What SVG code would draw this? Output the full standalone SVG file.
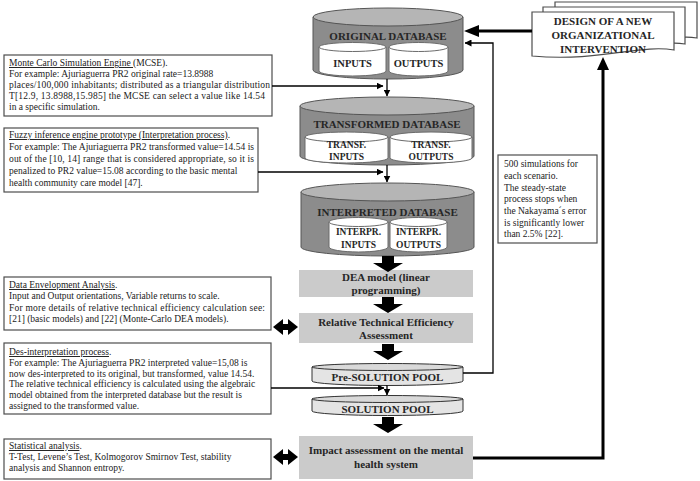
<svg xmlns="http://www.w3.org/2000/svg" width="700" height="481" viewBox="0 0 700 481">
<style>
.t{font-family:"Liberation Serif","Times New Roman",serif;font-size:9.5px;fill:#1a1a1a}
.u{text-decoration:underline}
.b{font-family:"Liberation Serif","Times New Roman",serif;font-weight:bold;fill:#262626;text-anchor:middle}
.box{fill:#fff;stroke:#4d4d4d;stroke-width:1.2}
.gbox{fill:#cbcbcb}
.body{fill:#8c8c8c;stroke:#555;stroke-width:1}
.top{fill:#b5b5b5;stroke:#555;stroke-width:1}
.ibody{fill:#fff;stroke:#6b6b6b;stroke-width:1}
.pbody{fill:#e4e4e4;stroke:#333;stroke-width:1}
.ptop{fill:#d9d9d9;stroke:#333;stroke-width:1}
.thin{fill:none;stroke:#000;stroke-width:1.3}
.thick{fill:none;stroke:#000;stroke-width:3}
.page{fill:#fff;stroke:#4d4d4d;stroke-width:1.2}
</style>
<defs>
<marker id="ah" markerWidth="7" markerHeight="7" refX="6.5" refY="3.5" orient="auto" markerUnits="userSpaceOnUse"><path d="M0,0 L7,3.5 L0,7 Z" fill="#000"/></marker>
</defs>

<g id="design">
<path class="page" d="M555,2 H697 V38 C675,34 660,44 640,42 L555,42 Z"/>
<path class="page" d="M543,7 H685 V44 C663,40 648,50 628,48 L543,48 Z"/>
<path class="page" d="M532,12 H674 V50 C640,44 600,62 532,56 Z"/>
<text class="b" font-size="11" x="603" y="25">DESIGN OF A NEW</text>
<text class="b" font-size="11" x="603" y="39">ORGANIZATIONAL</text>
<text class="b" font-size="11" x="603" y="53">INTERVENTION</text>
</g>

<g id="original-db">
<path class="body" d="M313,17 V70 A75,9 0 0 0 463,70 V17 Z"/>
<ellipse class="top" cx="388" cy="17" rx="75" ry="9"/>
<text class="b" font-size="11" x="388" y="40">ORIGINAL DATABASE</text>
<path class="ibody" d="M319,47 V71 A33.5,5 0 0 0 386,71 V47 Z"/>
<ellipse class="ibody" cx="352.5" cy="47" rx="33.5" ry="4.5"/>
<text class="b" font-size="10.5" x="352.5" y="67">INPUTS</text>
<path class="ibody" d="M389,47 V71 A29.5,5 0 0 0 448,71 V47 Z"/>
<ellipse class="ibody" cx="418.5" cy="47" rx="29.5" ry="4.5"/>
<text class="b" font-size="10.5" x="418.5" y="67">OUTPUTS</text>
</g>

<g id="transformed-db">
<path class="body" d="M300,106 V156 A87,9 0 0 0 474,156 V106 Z"/>
<ellipse class="top" cx="387" cy="106" rx="87" ry="9"/>
<text class="b" font-size="11" x="387" y="128">TRANSFORMED DATABASE</text>
<path class="ibody" d="M305,137 V158 A41.5,5 0 0 0 388,158 V137 Z"/>
<ellipse class="ibody" cx="346.5" cy="137" rx="41.5" ry="5"/>
<text class="b" font-size="9.5" x="346.5" y="148">TRANSF.</text>
<text class="b" font-size="9.5" x="346.5" y="160">INPUTS</text>
<path class="ibody" d="M390,137 V158 A41,5 0 0 0 472,158 V137 Z"/>
<ellipse class="ibody" cx="431" cy="137" rx="41" ry="5"/>
<text class="b" font-size="9.5" x="431" y="148">TRANSF.</text>
<text class="b" font-size="9.5" x="431" y="160">OUTPUTS</text>
</g>

<g id="interpreted-db">
<path class="body" d="M301,192 V247 A86.5,9 0 0 0 474,247 V192 Z"/>
<ellipse class="top" cx="387.5" cy="192" rx="86.5" ry="9"/>
<text class="b" font-size="11" x="387.5" y="216">INTERPRETED DATABASE</text>
<path class="ibody" d="M329,222 V247 A29.5,5 0 0 0 388,247 V222 Z"/>
<ellipse class="ibody" cx="358.5" cy="222" rx="29.5" ry="4.5"/>
<text class="b" font-size="9.5" x="358.5" y="235">INTERPR.</text>
<text class="b" font-size="9.5" x="358.5" y="248">INPUTS</text>
<path class="ibody" d="M390,222 V247 A28.5,5 0 0 0 447,247 V222 Z"/>
<ellipse class="ibody" cx="418.5" cy="222" rx="28.5" ry="4.5"/>
<text class="b" font-size="9.5" x="418.5" y="235">INTERPR.</text>
<text class="b" font-size="9.5" x="418.5" y="248">OUTPUTS</text>
</g>

<g id="dea-model">
<rect class="gbox" x="299" y="270" width="174" height="27"/>
<text class="b" font-size="11" x="386" y="281">DEA model (linear</text>
<text class="b" font-size="11" x="386" y="294">programming)</text>
</g>

<g id="rte">
<rect class="gbox" x="299" y="313" width="174" height="30"/>
<text class="b" font-size="11" x="386" y="326">Relative Technical Efficiency</text>
<text class="b" font-size="11" x="386" y="339">Assessment</text>
</g>

<g id="pre-solution-pool">
<path class="pbody" d="M312,367 V381 A75.5,4.5 0 0 0 463,381 V367 Z"/>
<ellipse class="ptop" cx="387.5" cy="367" rx="75.5" ry="3.5"/>
<text class="b" font-size="11" x="387.5" y="381">Pre-SOLUTION POOL</text>
</g>

<g id="solution-pool">
<path class="pbody" d="M312,399 V411 A75.5,4.5 0 0 0 463,411 V399 Z"/>
<ellipse class="ptop" cx="387.5" cy="399" rx="75.5" ry="3.5"/>
<text class="b" font-size="11" x="387.5" y="413">SOLUTION POOL</text>
</g>

<g id="impact">
<rect class="gbox" x="299" y="436" width="174" height="43"/>
<text class="b" font-size="11" x="386" y="454">Impact assessment on the mental</text>
<text class="b" font-size="11" x="386" y="468">health system</text>
</g>

<g id="mcse">
<rect class="box" x="4" y="55" width="268" height="61"/>
<text class="t" x="9" y="66"><tspan class="u">Monte Carlo Simulation Engine </tspan>(MCSE).</text>
<text class="t" x="9" y="77">For example: Ajuriaguerra PR2 original rate=13.8988</text>
<text class="t" x="9" y="88" textLength="261">places/100,000 inhabitants; distributed as a triangular distribution</text>
<text class="t" x="9" y="99" textLength="256">T[12.9, 13.8988,15.985] the MCSE can select a value like 14.54</text>
<text class="t" x="9" y="110">in a specific simulation.</text>
</g>

<g id="fuzzy">
<rect class="box" x="4" y="128" width="254" height="64"/>
<text class="t" x="9" y="138"><tspan class="u">Fuzzy inference engine prototype (Interpretation process)</tspan>.</text>
<text class="t" x="9" y="150" textLength="245">For example: The Ajuriaguerra PR2 transformed value=14.54 is</text>
<text class="t" x="9" y="162" textLength="245">out of the [10, 14] range that is considered appropriate, so it is</text>
<text class="t" x="9" y="174">penalized to PR2 value=15.08 according to the basic mental</text>
<text class="t" x="9" y="186">health community care model [47].</text>
</g>

<g id="dea-note">
<rect class="box" x="4" y="277" width="267" height="53"/>
<text class="t" x="9" y="288"><tspan class="u">Data Envelopment Analysis</tspan>.</text>
<text class="t" x="9" y="299">Input and Output orientations, Variable returns to scale.</text>
<text class="t" x="9" y="310.5" textLength="256">For more details of relative technical efficiency calculation see:</text>
<text class="t" x="9" y="322">[21] (basic models) and [22] (Monte-Carlo DEA models).</text>
</g>

<g id="desinterp">
<rect class="box" x="4" y="343" width="267" height="71"/>
<text class="t" x="9" y="355"><tspan class="u">Des-interpretation process</tspan>.</text>
<text class="t" x="9" y="366">For example: The Ajuriaguerra PR2 interpreted value=15,08 is</text>
<text class="t" x="9" y="376.5">now des-interpreted to its original, but transformed, value 14.54.</text>
<text class="t" x="9" y="387">The relative technical efficiency is calculated using the algebraic</text>
<text class="t" x="9" y="398">model obtained from the interpreted database but the result is</text>
<text class="t" x="9" y="409">assigned to the transformed value.</text>
</g>

<g id="stats">
<rect class="box" x="4" y="439" width="267" height="40"/>
<text class="t" x="9" y="449"><tspan class="u">Statistical analysis</tspan>.</text>
<text class="t" x="9" y="460">T-Test, Levene’s Test, Kolmogorov Smirnov Test, stability</text>
<text class="t" x="9" y="471">analysis and Shannon entropy.</text>
</g>

<g id="simulations">
<rect class="box" x="498" y="155" width="99" height="88"/>
<text class="t" x="504" y="167">500 simulations for</text>
<text class="t" x="504" y="179">each scenario.</text>
<text class="t" x="504" y="190.5">The steady-state</text>
<text class="t" x="504" y="202">process stops when</text>
<text class="t" x="504" y="214">the Nakayama´s error</text>
<text class="t" x="504" y="226">is significantly lower</text>
<text class="t" x="504" y="237">than 2.5% [22].</text>
</g>

<g id="connectors">
<line class="thin" x1="272" y1="86" x2="383" y2="86" marker-end="url(#ah)"/>
<line class="thin" x1="387" y1="79" x2="387" y2="96" marker-end="url(#ah)"/>
<line class="thin" x1="258" y1="172" x2="383" y2="172" marker-end="url(#ah)"/>
<line class="thin" x1="387" y1="165" x2="387" y2="182" marker-end="url(#ah)"/>
<line class="thin" x1="271" y1="388" x2="384" y2="388" marker-end="url(#ah)"/>
<line class="thin" x1="387" y1="385" x2="387" y2="395" marker-end="url(#ah)"/>
<polyline class="thin" points="463,373 493,373 493,43 465,43" marker-end="url(#ah)"/>
<line class="thick" x1="532" y1="31" x2="476" y2="31"/>
<polygon points="464,31 479,25 479,37" fill="#000"/>
<polyline class="thick" points="473,458 603,458 603,68"/>
<polygon points="603,57 597,70 609,70" fill="#000"/>
<g fill="#000">
<polygon points="382,256 394,256 394,263 403,263 388,272 373,263 382,263"/>
<polygon points="382,297 394,297 394,304 403,304 388,313 373,304 382,304"/>
<polygon points="382,344 394,344 394,351 403,351 388,360 373,351 382,351"/>
<polygon points="382,417 394,417 394,424 403,424 388,433 373,424 382,424"/>
<polygon points="273,327 283,319 283,324 288,324 288,319 298,327 288,335 288,330 283,330 283,335"/>
<polygon points="273,457 283,449 283,454 288,454 288,449 298,457 288,465 288,460 283,460 283,465"/>
</g>
</g>
</svg>
